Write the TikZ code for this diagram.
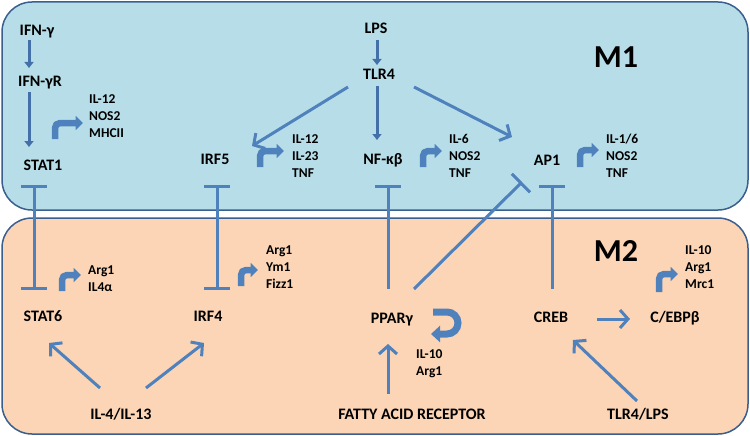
\documentclass[tikz,border=0pt]{standalone}
\usepackage{fontspec}
\setmainfont{Carlito}
\usetikzlibrary{arrows.meta,calc}
\definecolor{mone}{HTML}{B7DEE8}
\definecolor{mtwo}{HTML}{FBD5B5}
\definecolor{edgec}{HTML}{3A5F8F}
\definecolor{arrc}{HTML}{4F81BD}
\definecolor{darrc}{HTML}{4470AA}
\definecolor{outc}{HTML}{385D8A}
\begin{document}
\begin{tikzpicture}[x=1pt,y=-1pt,
  lab/.style={font=\fontsize{16}{19}\selectfont\bfseries, inner sep=0pt, text height=10.5pt, text depth=3pt},
  gene/.style={font=\fontsize{13.5}{16.8}\selectfont\bfseries, inner sep=0pt, align=left, anchor=west},
  big/.style={font=\fontsize{32}{36}\selectfont\bfseries, inner sep=0pt},
  panel/.style={draw=edgec, line width=1.5pt, rounded corners=30pt},
  actarrow/.style={arrc, line width=3pt, -{Straight Barb[length=8pt,width=18pt]}},
  shortarrow/.style={darrc, line width=3pt, -{Triangle[length=6pt,width=9pt]}},
  inhib/.style={arrc, line width=3pt, -{Bar[width=26pt]}},
  mutual/.style={arrc, line width=3pt, {Bar[width=26pt]}-{Bar[width=26pt]}},
  bentarrow/.style={arrc, line width=6.5pt, rounded corners=5pt, -{Triangle[length=7.5pt,width=14pt]}}
]
\useasboundingbox (0,0) rectangle (750,436);
\fill[white] (0,0) rectangle (750,436);
% panels
\draw[panel, fill=mone] (2,2) rectangle (748,210);
\draw[panel, fill=mtwo] (2,218) rectangle (748,434);

\node[big] (m1) at (616,57) {M1};
\node[big] (m2) at (616,251) {M2};

% main labels
\node[lab] (ifng) at (37,32) {IFN-γ};
\node[lab] (ifngr) at (40,83) {IFN-γR};
\node[lab] (stat1) at (43,167) {STAT1};
\node[lab] (irf5) at (215,161) {IRF5};
\node[lab] (lps) at (376,30) {LPS};
\node[lab] (tlr4) at (379,76) {TLR4};
\node[lab] (nfkb) at (383,161) {NF-κβ};
\node[lab] (ap1) at (547,162) {AP1};
\node[lab] (stat6) at (43,318) {STAT6};
\node[lab] (irf4) at (208,318) {IRF4};
\node[lab] (ppar) at (392,320) {PPARγ};
\node[lab] (creb) at (551,319) {CREB};
\node[lab] (cebp) at (675,319) {C/EBPβ};
\node[lab] (il4) at (121,416) {IL-4/IL-13};
\node[lab] (fatty) at (412,416) {FATTY ACID RECEPTOR};
\node[lab] (tlrlps) at (638,416) {TLR4/LPS};

% gene lists
\node[gene] (g1) at (89,116) {IL-12\\NOS2\\MHCII};
\node[gene] (g2) at (292,156) {IL-12\\IL-23\\TNF};
\node[gene] (g3) at (449,156) {IL-6\\NOS2\\TNF};
\node[gene] (g4) at (606,156) {IL-1/6\\NOS2\\TNF};
\node[gene] (g5) at (88,279) {Arg1\\IL4α};
\node[gene] (g6) at (266,267) {Arg1\\Ym1\\Fizz1};
\node[gene] (g7) at (416,364) {IL-10\\Arg1};
\node[gene] (g8) at (685,267) {IL-10\\Arg1\\Mrc1};

% bent expression arrows
\draw[bentarrow] (55,139) -- (55,123) -- (83,123);
\draw[bentarrow] (260,167) -- (260,151) -- (284,151);
\draw[bentarrow] (423,167) -- (423,151) -- (442,151);
\draw[bentarrow] (580,167) -- (580,150) -- (599,150);
\draw[bentarrow] (62,291) -- (62,275) -- (81,275);
\draw[bentarrow] (241,286) -- (241,270) -- (258,270);
\draw[bentarrow] (659,292) -- (659,274) -- (678,274);
% circular arrow near PPARgamma
\draw[arrc, line width=7pt, -{Triangle[length=9pt,width=16pt]}]
  (433,312) -- (447,312) arc[start angle=90, end angle=-90, radius=11pt] -- (431,334);

% activation arrows
\draw[shortarrow] ($(ifng)+(-8,8)$) -- ($(ifngr)+(-11,-15)$);
\draw[shortarrow] ($(ifngr)+(-11,9)$) -- ($(stat1)+(-14,-20)$);
\draw[shortarrow] ($(lps)+(1,10)$) -- ($(tlr4)+(-2,-11)$);
\draw[shortarrow] ($(tlr4)+(-2,10)$) -- ($(nfkb)+(-6,-21)$);
\draw[actarrow] ($(tlr4)+(-31,11)$) -- ($(irf5)+(37,-15)$);
\draw[actarrow] ($(tlr4)+(35,11)$) -- ($(ap1)+(-35,-25)$);
\draw[actarrow] ($(il4)+(-21,-28)$) -- ($(stat6)+(6,25)$);
\draw[actarrow] ($(il4)+(25,-28)$) -- ($(irf4)+(-4,25)$);
\draw[actarrow] ($(fatty)+(-24,-22)$) -- ($(ppar)+(-4,24)$);
\draw[actarrow] ($(creb)+(46,0)$) -- ($(cebp)+(-45,0)$);
\draw[actarrow] ($(tlrlps)+(-1,-15)$) -- ($(creb)+(22,21)$);

% inhibition
\draw[mutual] ($(stat1)+(-9,18)$) -- ($(stat6)+(-9,-28)$);
\draw[mutual] ($(irf5)+(2,24)$) -- ($(irf4)+(9,-28)$);
\draw[inhib] ($(ppar)+(-4,-31)$) -- ($(nfkb)+(5,24)$);
\draw[inhib] ($(ppar)+(22,-31)$) -- ($(ap1)+(-25,20)$);
\draw[inhib] ($(creb)+(1,-30)$) -- ($(ap1)+(5,23)$);
\end{tikzpicture}
\end{document}
